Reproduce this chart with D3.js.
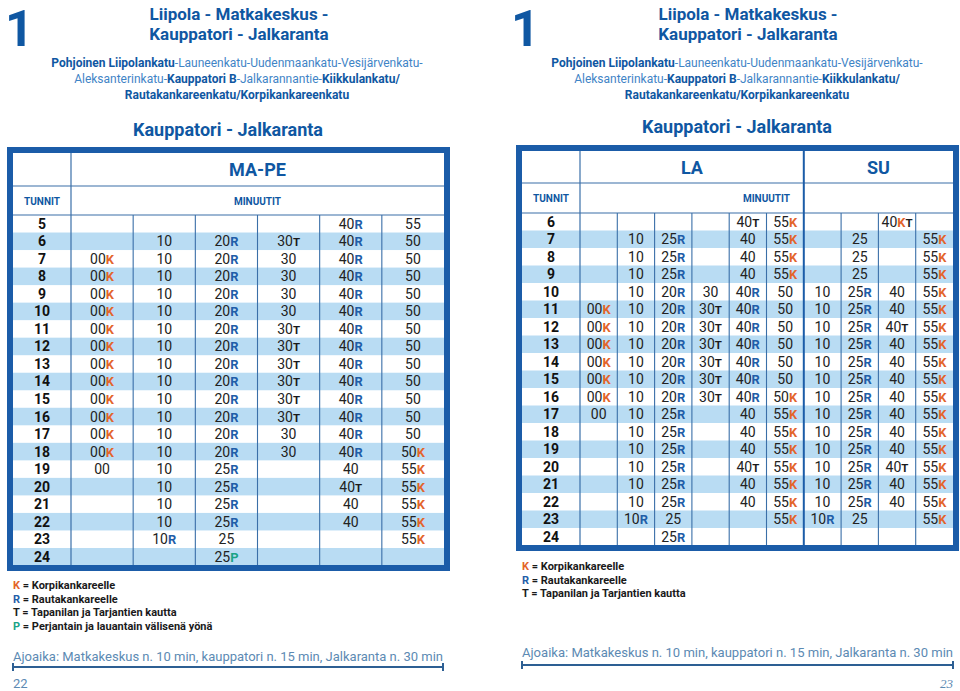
<!DOCTYPE html>
<html><head><meta charset="utf-8">
<script src="https://cdn.jsdelivr.net/npm/d3@7"></script>
<style>
body{margin:0;background:#fff;}
svg{display:block;font-family:Roboto,"DejaVu Sans",sans-serif;}
</style></head>
<body><svg id="c" width="960" height="691"></svg>
<script>
// ---------- DATA ----------
const routeNumber = "1";
const titleLines = ["Liipola - Matkakeskus -", "Kauppatori - Jalkaranta"];
const routeLines = [
  [["Pohjoinen Liipolankatu", true], ["-Launeenkatu-Uudenmaankatu-Vesijärvenkatu-", false]],
  [["Aleksanterinkatu-", false], ["Kauppatori B", true], ["-Jalkarannantie-", false], ["Kiikkulankatu/", true]],
  [["Rautakankareenkatu/Korpikankareenkatu", true]]
];
const subTitle = "Kauppatori - Jalkaranta";

const weekdayHours = [5,6,7,8,9,10,11,12,13,14,15,16,17,18,19,20,21,22,23,24];
const weekdayTimes = [
  ["","","","","40R","55"],
  ["","10","20R","30T","40R","50"],
  ["00K","10","20R","30","40R","50"],
  ["00K","10","20R","30","40R","50"],
  ["00K","10","20R","30","40R","50"],
  ["00K","10","20R","30","40R","50"],
  ["00K","10","20R","30T","40R","50"],
  ["00K","10","20R","30T","40R","50"],
  ["00K","10","20R","30T","40R","50"],
  ["00K","10","20R","30T","40R","50"],
  ["00K","10","20R","30T","40R","50"],
  ["00K","10","20R","30T","40R","50"],
  ["00K","10","20R","30","40R","50"],
  ["00K","10","20R","30","40R","50K"],
  ["00","10","25R","","40","55K"],
  ["","10","25R","","40T","55K"],
  ["","10","25R","","40","55K"],
  ["","10","25R","","40","55K"],
  ["","10R","25","","","55K"],
  ["","","25P","","",""]
];

const weekendHours = [6,7,8,9,10,11,12,13,14,15,16,17,18,19,20,21,22,23,24];
const saturdayTimes = [
  ["","","","","40T","55K"],
  ["","10","25R","","40","55K"],
  ["","10","25R","","40","55K"],
  ["","10","25R","","40","55K"],
  ["","10","20R","30","40R","50"],
  ["00K","10","20R","30T","40R","50"],
  ["00K","10","20R","30T","40R","50"],
  ["00K","10","20R","30T","40R","50"],
  ["00K","10","20R","30T","40R","50"],
  ["00K","10","20R","30T","40R","50"],
  ["00K","10","20R","30T","40R","50K"],
  ["00","10","25R","","40","55K"],
  ["","10","25R","","40","55K"],
  ["","10","25R","","40","55K"],
  ["","10","25R","","40T","55K"],
  ["","10","25R","","40","55K"],
  ["","10","25R","","40","55K"],
  ["","10R","25","","","55K"],
  ["","","25R","","",""]
];
const sundayTimes = [
  ["","","40KT",""],
  ["","25","","55K"],
  ["","25","","55K"],
  ["","25","","55K"],
  ["10","25R","40","55K"],
  ["10","25R","40","55K"],
  ["10","25R","40T","55K"],
  ["10","25R","40","55K"],
  ["10","25R","40","55K"],
  ["10","25R","40","55K"],
  ["10","25R","40","55K"],
  ["10","25R","40","55K"],
  ["10","25R","40","55K"],
  ["10","25R","40","55K"],
  ["10","25R","40T","55K"],
  ["10","25R","40","55K"],
  ["10","25R","40","55K"],
  ["10R","25","","55K"],
  ["","","",""]
];

const legendLeft = [["K","Korpikankareelle"],["R","Rautakankareelle"],["T","Tapanilan ja Tarjantien kautta"],["P","Perjantain ja lauantain välisenä yönä"]];
const legendRight = [["K","Korpikankareelle"],["R","Rautakankareelle"],["T","Tapanilan ja Tarjantien kautta"]];
const travelTime = "Ajoaika: Matkakeskus n. 10 min, kauppatori n. 15 min, Jalkaranta n. 30 min";
const pageNumbers = ["22","23"];

// ---------- STYLE ----------
const BLUE = "#0f57a2", BORDER = "#1b5ca8", LINE = "#3a6fa8", STRIPE = "#b9dcf3";
const LIGHT = "#3f84c6", TEXT = "#222", FOOT = "#5c8ab3";
const suffixColor = {K:"#e3642a", R:"#1f5ea8", T:"#1a1a1a", P:"#1aa386"};

const svg = d3.select("#c");

function cellText(sel, str) {
  const m = str.match(/^(\d+)([A-Z]*)$/);
  if (!m) return;
  sel.append("tspan").text(m[1]);
  for (const ch of m[2]) {
    sel.append("tspan").text(ch).attr("fill", suffixColor[ch]).attr("font-weight", 700)
      .attr("font-size", ch === "T" ? "0.82em" : "0.92em");
  }
}

function header(g, cx) {
  g.append("text").attr("x", cx).attr("y", 20).attr("text-anchor","middle")
    .attr("font-size", 17).attr("font-weight", 700).attr("fill", BLUE).text(titleLines[0]);
  g.append("text").attr("x", cx).attr("y", 39.5).attr("text-anchor","middle")
    .attr("font-size", 17).attr("font-weight", 700).attr("fill", BLUE).text(titleLines[1]);
}

function routeText(g, cx) {
  routeLines.forEach((parts, i) => {
    const t = g.append("text").attr("x", cx).attr("y", 67 + i*16).attr("text-anchor","middle")
      .attr("font-size", 12);
    parts.forEach(([s, b]) => t.append("tspan").text(s)
      .attr("font-weight", b ? 700 : 400).attr("fill", b ? BLUE : LIGHT));
  });
}

function drawTable(opt) {
  const g = svg.append("g");
  const {x0, x1, y0, y1, h1, h2, hourW, hours, groups} = opt;
  const innerX0 = x0 + 6, innerX1 = x1 - 6, innerY0 = y0 + 6, innerY1 = y1 - 5;
  const dataY0 = innerY0 + h1 + h2;
  const cols = groups.flatMap((gr, gi) => gr.times[0].map((_, ci) => gi + "-" + ci));
  const y = d3.scaleBand().domain(hours).range([dataY0, innerY1]);
  const x = d3.scaleBand().domain(cols).range([innerX0 + hourW, innerX1]);

  g.append("rect").attr("x", innerX0).attr("y", innerY0).attr("width", innerX1-innerX0)
    .attr("height", innerY1-innerY0).attr("fill", "#fff");
  g.selectAll("rect.s").data(hours.filter((h, i) => i % 2 === 1)).join("rect")
    .attr("x", innerX0).attr("width", innerX1-innerX0)
    .attr("y", d => y(d)).attr("height", y.bandwidth()).attr("fill", STRIPE);
  g.append("line").attr("x1", innerX0).attr("x2", innerX1)
    .attr("y1", innerY0 + h1).attr("y2", innerY0 + h1).attr("stroke", LINE).attr("stroke-width", 1.2);
  g.append("line").attr("x1", innerX0).attr("x2", innerX1)
    .attr("y1", dataY0).attr("y2", dataY0).attr("stroke", LINE).attr("stroke-width", 1.2);
  g.append("line").attr("x1", innerX0 + hourW).attr("x2", innerX0 + hourW)
    .attr("y1", innerY0).attr("y2", innerY1).attr("stroke", LINE).attr("stroke-width", 1.2);
  cols.forEach((c, i) => {
    if (i === 0) return;
    const isGroup = c.endsWith("-0");
    g.append("line").attr("x1", x(c)).attr("x2", x(c))
      .attr("y1", isGroup ? innerY0 : dataY0).attr("y2", innerY1)
      .attr("stroke", isGroup ? BORDER : LINE).attr("stroke-width", isGroup ? 2 : 1.1);
  });
  groups.forEach((gr, gi) => {
    const n = gr.times[0].length;
    const a = x(gi + "-0"), b = x(gi + "-" + (n-1)) + x.bandwidth();
    g.append("text").attr("x", (a+b)/2).attr("y", innerY0 + h1/2 + 6.5).attr("text-anchor","middle")
      .attr("font-size", 18).attr("font-weight", 700).attr("fill", BLUE).text(gr.name);
  });
  g.append("text").attr("x", innerX0 + hourW/2).attr("y", innerY0 + h1 + h2/2 + 4)
    .attr("text-anchor","middle").attr("font-size", 10).attr("font-weight", 700)
    .attr("fill", BLUE).text("TUNNIT");
  g.append("text").attr("x", (innerX0 + hourW + innerX1)/2).attr("y", innerY0 + h1 + h2/2 + 4)
    .attr("text-anchor","middle").attr("font-size", 10).attr("font-weight", 700)
    .attr("fill", BLUE).text("MINUUTIT");
  g.selectAll("text.h").data(hours).join("text")
    .attr("x", innerX0 + hourW/2).attr("y", d => y(d) + y.bandwidth()/2 + 5)
    .attr("text-anchor","middle").attr("font-size", 14).attr("font-weight", 700)
    .attr("fill", "#111").text(d => d);
  groups.forEach((gr, gi) => {
    gr.times.forEach((row, ri) => {
      row.forEach((v, ci) => {
        if (!v) return;
        const key = gi + "-" + ci;
        const t = g.append("text").attr("x", x(key) + x.bandwidth()/2)
          .attr("y", y(hours[ri]) + y.bandwidth()/2 + 5)
          .attr("text-anchor","middle").attr("font-size", 14).attr("fill", TEXT);
        cellText(t, v);
      });
    });
  });
  g.append("rect").attr("x", x0 + 3).attr("y", y0 + 3).attr("width", x1 - x0 - 6)
    .attr("height", y1 - y0 - 5.5).attr("fill", "none").attr("stroke", BORDER).attr("stroke-width", 6);
}

function legend(items, x0, y0) {
  items.forEach(([k, label], i) => {
    const t = svg.append("text").attr("x", x0).attr("y", y0 + i*13.5)
      .attr("font-size", 11).attr("font-weight", 700).attr("fill", "#1a1a1a");
    t.append("tspan").text(k).attr("fill", suffixColor[k]);
    t.append("tspan").text(" = " + label);
  });
}

function footer(x0, x1, ty, ly) {
  svg.append("text").attr("x", x0).attr("y", ty).attr("font-size", 13)
    .attr("textLength", x1 - x0).attr("lengthAdjust", "spacingAndGlyphs")
    .attr("fill", FOOT).text(travelTime);
  svg.append("line").attr("x1", x0).attr("x2", x1).attr("y1", ly).attr("y2", ly)
    .attr("stroke", "#2d5f93").attr("stroke-width", 2);
  [x0, x1].forEach(xx => svg.append("line").attr("x1", xx).attr("x2", xx)
    .attr("y1", ly - 4).attr("y2", ly + 4).attr("stroke", "#2d5f93").attr("stroke-width", 2));
}

// ---------- LEFT PAGE ----------
svg.append("text").attr("x", 5).attr("y", 46).attr("font-size", 50).attr("font-weight", 700)
  .attr("fill", BLUE).text(routeNumber);
const gl = svg.append("g");
header(gl, 239);
routeText(gl, 237);
svg.append("text").attr("x", 228).attr("y", 136).attr("text-anchor","middle")
  .attr("font-size", 18).attr("font-weight", 700).attr("fill", BLUE).text(subTitle);
drawTable({x0: 7, x1: 450, y0: 147, y1: 570.5, h1: 33, h2: 29, hourW: 58,
  hours: weekdayHours, groups: [{name: "MA-PE", times: weekdayTimes}]});
legend(legendLeft, 13, 589);
footer(13, 443, 661, 667);
svg.append("text").attr("x", 13).attr("y", 688).attr("font-size", 13).attr("fill", FOOT).text(pageNumbers[0]);

// ---------- RIGHT PAGE ----------
svg.append("text").attr("x", 511).attr("y", 46).attr("font-size", 50).attr("font-weight", 700)
  .attr("fill", BLUE).text(routeNumber);
const gr = svg.append("g");
header(gr, 748);
routeText(gr, 737);
svg.append("text").attr("x", 737).attr("y", 133).attr("text-anchor","middle")
  .attr("font-size", 18).attr("font-weight", 700).attr("fill", BLUE).text(subTitle);
drawTable({x0: 516, x1: 959, y0: 145, y1: 550.5, h1: 32, h2: 30, hourW: 58,
  hours: weekendHours, groups: [{name: "LA", times: saturdayTimes}, {name: "SU", times: sundayTimes}]});
legend(legendRight, 522, 570);
footer(522, 953, 657, 665);
svg.append("text").attr("x", 953).attr("y", 688).attr("text-anchor","end").attr("font-size", 13)
  .attr("font-family", "Liberation Serif, serif").attr("font-style","italic").attr("fill", FOOT).text(pageNumbers[1]);
</script></body></html>
